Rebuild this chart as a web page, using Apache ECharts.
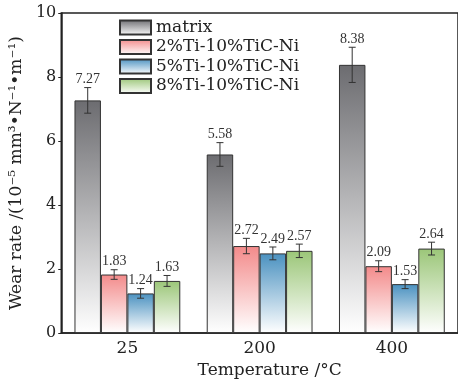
<!DOCTYPE html>
<html>
<head>
<meta charset="utf-8">
<script src="https://cdn.jsdelivr.net/npm/echarts@6/dist/echarts.min.js"></script>
<style>
  html, body { margin: 0; padding: 0; background: #fff; }
  #chart { width: 458px; height: 384px; }
</style>
</head>
<body>
<div id="chart"></div>
<script>
// 数据
var categories = ['25', '200', '400'];
var seriesNames = ['matrix', '2%Ti-10%TiC-Ni', '5%Ti-10%TiC-Ni', '8%Ti-10%TiC-Ni'];
var matrixVals = [7.27, 5.58, 8.38];
var ti2Vals = [1.83, 2.72, 2.09];
var ti5Vals = [1.24, 2.49, 1.53];
var ti8Vals = [1.63, 2.57, 2.64];
var matrixErr = [0.40, 0.37, 0.55];
var ti2Err = [0.15, 0.24, 0.17];
var ti5Err = [0.15, 0.20, 0.14];
var ti8Err = [0.17, 0.21, 0.20];
var yTicks = [0, 2, 4, 6, 8, 10];

var allVals = [matrixVals, ti2Vals, ti5Vals, ti8Vals];
var allErr = [matrixErr, ti2Err, ti5Err, ti8Err];
var topColors = ['#6c6c70', '#f38a8a', '#4a91c0', '#9bc678'];
var serif = 'DejaVu Serif';

var chart = echarts.init(document.getElementById('chart'));

function grad(c) {
  return new echarts.graphic.LinearGradient(0, 0, 0, 1, [
    { offset: 0, color: c },
    { offset: 1, color: '#ffffff' }
  ]);
}

var series = [];
// 柱状图
for (var i = 0; i < 4; i++) {
  series.push({
    name: seriesNames[i],
    type: 'bar',
    barGap: '0%',
    barCategoryGap: '20%',
    itemStyle: { color: grad(topColors[i]), borderColor: '#333', borderWidth: 1 },
    data: allVals[i]
  });
}
// 误差棒 + 数值
for (var j = 0; j < 4; j++) {
  (function (k) {
    var d = [];
    for (var c = 0; c < categories.length; c++) {
      d.push([c, allVals[k][c], allErr[k][c]]);
    }
    series.push({
      name: 'err' + k,
      type: 'custom',
      z: 5,
      data: d,
      renderItem: function (params, api) {
        var xi = api.value(0), v = api.value(1), e = api.value(2);
        var band = api.size([1, 0])[0];
        var bw = band * 0.8 / 4;
        var cx = api.coord([xi, v])[0] + (k - 1.5) * bw;
        var yt = api.coord([xi, v + e])[1];
        var yb = api.coord([xi, v - e])[1];
        var ls = { stroke: '#333', lineWidth: 1 };
        return {
          type: 'group',
          children: [
            { type: 'line', shape: { x1: cx, y1: yt, x2: cx, y2: yb }, style: ls },
            { type: 'line', shape: { x1: cx - 3.5, y1: yt, x2: cx + 3.5, y2: yt }, style: ls },
            { type: 'line', shape: { x1: cx - 3.5, y1: yb, x2: cx + 3.5, y2: yb }, style: ls },
            { type: 'text', x: cx, y: yt - 1,
              style: { text: v.toFixed(2), fill: '#333', font: '14px "Liberation Serif"',
                       textAlign: 'center', textVerticalAlign: 'bottom' } }
          ]
        };
      }
    });
  })(j);
}

var option = {
  backgroundColor: '#fff',
  animation: false,
  grid: {
    left: 59, top: 13, width: 402, height: 323,
    show: true, borderColor: '#222', borderWidth: 1.5, backgroundColor: 'transparent'
  },
  legend: {
    data: seriesNames,
    orient: 'vertical',
    left: 119, top: 19,
    padding: 0,
    itemWidth: 31, itemHeight: 14, itemGap: 2.5,
    icon: 'rect',
    textStyle: { fontFamily: serif, fontSize: 17, color: '#222', lineHeight: 14 }
  },
  xAxis: {
    type: 'category',
    data: categories,
    name: 'Temperature /°C',
    nameLocation: 'middle',
    nameGap: 22,
    nameTextStyle: { fontFamily: serif, fontSize: 17, color: '#222', padding: [0, 0, 0, 20] },
    axisLine: { lineStyle: { color: '#222', width: 1.5 } },
    axisTick: { show: false },
    axisLabel: { fontFamily: serif, fontSize: 17, color: '#222', margin: 7 }
  },
  yAxis: {
    type: 'value',
    min: yTicks[0], max: yTicks[yTicks.length - 1], interval: 2,
    name: 'Wear rate /(10⁻⁵ mm³•N⁻¹•m⁻¹)',
    nameLocation: 'middle',
    nameGap: 28,
    nameTextStyle: { fontFamily: serif, fontSize: 17, color: '#222' },
    axisLine: { show: true, lineStyle: { color: '#222', width: 1.5 } },
    axisTick: { show: true, length: 3, lineStyle: { color: '#222' } },
    splitLine: { show: false },
    axisLabel: { fontFamily: serif, fontSize: 16, color: '#222', margin: 5 }
  },
  series: series
};

chart.setOption(option);
</script>
</body>
</html>
